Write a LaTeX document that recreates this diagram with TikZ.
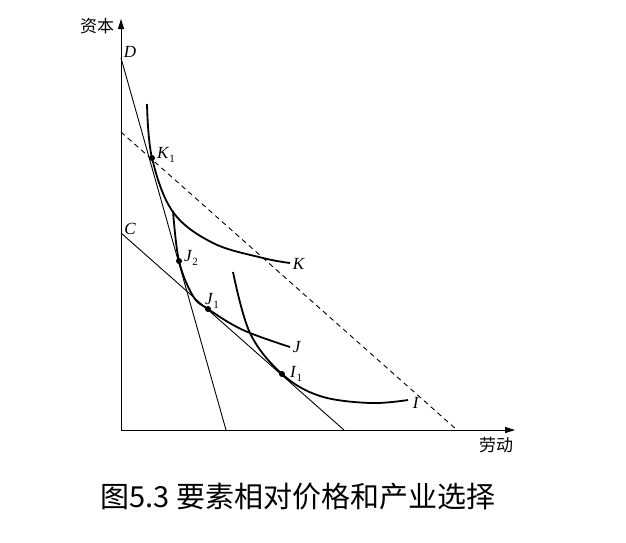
\documentclass[tikz,border=0pt]{standalone}
\usepackage{fontspec}
\setmainfont{Liberation Serif}
\newfontfamily\cjk{Noto Sans CJK SC}
\usetikzlibrary{arrows.meta}
\newcommand{\lbl}[2]{\textit{#1}\raisebox{-0.45ex}{\fontsize{11}{12}\selectfont #2}}
\begin{document}
\begin{tikzpicture}[x=1pt,y=-1pt,
  axis/.style={line width=1pt,-{Triangle[length=10pt,width=6pt]}},
  budget/.style={line width=0.9pt},
  iso/.style={line width=1.8pt},
  dashline/.style={line width=0.9pt,dash pattern=on 5pt off 4pt},
  pt/.style={circle,fill=black,inner sep=0pt,minimum size=6pt},
  letter/.style={inner sep=0pt,font=\fontsize{17}{19}\selectfont},
  axlabel/.style={inner sep=0pt,font=\cjk\fontsize{17}{19}\selectfont}]
\useasboundingbox (0,0) rectangle (626,542);
% axes
\coordinate (O) at (121,430);
\coordinate (Ytop) at (121,19);
\coordinate (Xend) at (515,430);
\draw[axis] (O) -- (Ytop);
\draw[axis] (O) -- (Xend);
\node[axlabel] (ylab) at (97,26) {资本};
\node[axlabel] (xlab) at (496,445) {劳动};
% budget lines
\coordinate (D) at (121,58);
\coordinate (Dx) at (226,430);
\coordinate (C) at (121,233);
\coordinate (Cx) at (344,430);
\coordinate (E) at (121,132);
\coordinate (Ex) at (457,430);
\draw[budget] (D) -- (Dx);
\draw[budget] (C) -- (Cx);
\draw[dashline] (E) -- (Ex);
\node[letter] (Dl) at (130,52) {\textit{D}};
\node[letter] (Cl) at (130,229) {\textit{C}};
% isoquants
\draw[iso] plot[smooth,tension=0.6] coordinates {(147,104) (152,158) (173,212) (213,243) (263,258) (290,263)};
\draw[iso] plot[smooth,tension=0.6] coordinates {(173,211) (179,261) (193,296) (208,309) (243,330) (290,347)};
\draw[iso] plot[smooth,tension=0.6] coordinates {(233,272) (250,333) (282,374) (320,396) (370,403) (408,400)};
% points
\node[pt] (K1) at (152,158) {};
\node[pt] (J2) at (179,261) {};
\node[pt] (J1) at (208,309) {};
\node[pt] (I1) at (282,374) {};
\node[letter,anchor=west] (K1l) at (157,155) {\lbl{K}{1}};
\node[letter,anchor=west] (J2l) at (184,258) {\lbl{J}{2}};
\node[letter,anchor=west] (J1l) at (205,301) {\lbl{J}{1}};
\node[letter,anchor=west] (I1l) at (290,374) {\lbl{I}{1}};
\node[letter] (Kl) at (299,264) {\textit{K}};
\node[letter] (Jl) at (297,347) {\textit{J}};
\node[letter] (Il) at (416,403) {\textit{I}};
% caption
\node[inner sep=0pt,font=\cjk\fontsize{29}{32}\selectfont] (cap) at (298,497) {图5.3 要素相对价格和产业选择};
\end{tikzpicture}
\end{document}
